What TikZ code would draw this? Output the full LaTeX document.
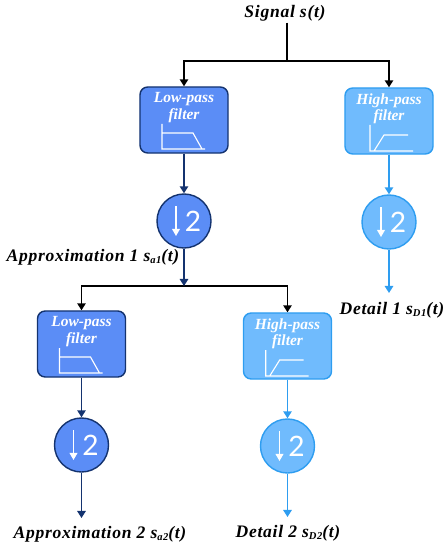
\documentclass[tikz,border=0pt]{standalone}
\usepackage{fontspec}
\setmainfont{Liberation Serif}
\newfontfamily\digitfont{Lato}
\definecolor{lowfill}{HTML}{5B8DF6}
\definecolor{lowline}{HTML}{14336F}
\definecolor{highfill}{HTML}{70BBFD}
\definecolor{highline}{HTML}{2E9DF0}
\usetikzlibrary{arrows.meta}
\tikzset{
  lowbox/.style={draw=lowline,fill=lowfill,line width=1pt,rounded corners=5.5pt,minimum width=2.2cm,minimum height=1.65cm,align=center,text=white,font=\fontsize{11}{11.5}\selectfont\itshape\bfseries,inner sep=0pt},
  highbox/.style={lowbox,draw=highline,fill=highfill},
  lowdown/.style={circle,draw=lowline,fill=lowfill,line width=1pt,minimum size=1.35cm,inner sep=0pt,text=white,font=\fontsize{20}{20}\digitfont},
  highdown/.style={lowdown,draw=highline,fill=highfill},
  sigtext/.style={font=\fontsize{12.5}{14}\selectfont\itshape\bfseries\addfontfeatures{LetterSpace=4},inner sep=1pt},
  blackline/.style={draw=black,line width=1.1pt,-{Triangle[length=5pt,width=6pt]}},
  plainline/.style={draw=black,line width=1.1pt},
  lowline/.style={draw=lowline,line width=1.1pt,-{Triangle[length=5pt,width=6pt]}},
  highline/.style={draw=highline,line width=1.1pt,-{Triangle[length=5pt,width=6pt]}},
  glyph/.style={draw=white,line width=0.8pt},
  whitearrow/.style={draw=white,line width=0.9pt,-{Triangle[length=5pt,width=5.5pt]}}
}
\newcommand{\lowcurve}[1]{\draw[glyph,shift={(#1.center)}] (-22,4) -- (-22,29) -- (21,29) (-22,13) -- (9,13) -- (18,29);}
\newcommand{\highcurve}[2]{\draw[glyph,shift={(#1.center)},xshift=#2] (-19,4) -- (-19,30) -- (24,30) (-15,30) -- (-5,14) -- (19,14);}
\newcommand{\downmark}[1]{\draw[whitearrow,shift={(#1.center)}] (-8,-15) -- (-8,15);}
\newcommand{\subtext}[1]{\raisebox{-0.25ex}{\fontsize{7.5}{8}\selectfont #1}}
\begin{document}
\begin{tikzpicture}[x=0.025cm,y=-0.025cm]
\useasboundingbox (0,0) rectangle (447,550);
\node[sigtext] (sig) at (285,13) {Signal s(t)};
\node[lowbox] (lp1) at (184,120) {Low-pass\\filter\\[0.3cm]\mbox{}};
\node[highbox] (hp1) at (389,121) {High-pass\\filter\\[0.3cm]\mbox{}};
\node[lowdown] (dn1) at (184,221) {\hspace{0.45cm}2};
\node[highdown] (dd1) at (389,222) {\hspace{0.45cm}2};
\node[sigtext] (ap1) at (93,257) {Approximation 1 s\subtext{a1}(t)};
\node[sigtext] (dt1) at (392,310) {Detail 1 s\subtext{D1}(t)};
\node[lowbox] (lp2) at (81.5,344) {Low-pass\\filter\\[0.3cm]\mbox{}};
\node[highbox] (hp2) at (287.5,346) {High-pass\\filter\\[0.3cm]\mbox{}};
\node[lowdown] (dn2) at (81.5,445) {\hspace{0.45cm}2};
\node[highdown] (dd2) at (287.5,446) {\hspace{0.45cm}2};
\node[sigtext] (ap2) at (100,534) {Approximation 2 s\subtext{a2}(t)};
\node[sigtext] (dt2) at (288,533) {Detail 2 s\subtext{D2}(t)};
\coordinate (top) at (287,61);
\coordinate (mid) at (184,286);
\coordinate (end1) at (389,293);
\coordinate (end2) at (81.5,518);
\coordinate (end3) at (287.5,517);
% first level
\draw[plainline] (sig.south -| top) -- (top);
\draw[blackline] (top) -| (lp1.north);
\draw[blackline] (top) -| (hp1.north);
\draw[lowline] (lp1) -- (dn1);
\draw[highline] (hp1) -- (dd1);
\draw[highline] (dd1) -- (end1);
% second level
\draw[blackline] (mid) -| (lp2.north);
\draw[blackline] (mid) -| (hp2.north);
\draw[lowline] (dn1) -- (mid);
\draw[lowline] (lp2) -- (dn2);
\draw[highline] (hp2) -- (dd2);
\draw[lowline] (dn2) -- (end2);
\draw[highline] (dd2) -- (end3);
\lowcurve{lp1}
\lowcurve{lp2}
\highcurve{hp1}{0pt}
\highcurve{hp2}{-2pt}
\downmark{dn1}
\downmark{dd1}
\downmark{dn2}
\downmark{dd2}
\end{tikzpicture}
\end{document}
